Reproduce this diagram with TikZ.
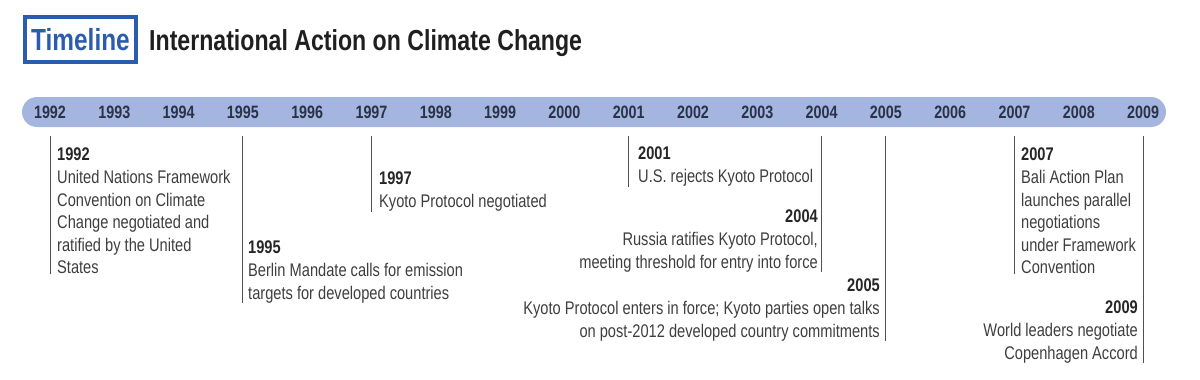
\documentclass[tikz,border=0pt]{standalone}
\usepackage{fontspec}
\setmainfont[FakeStretch=0.8]{Liberation Sans}
\usetikzlibrary{positioning}

\definecolor{barblue}{HTML}{A4B6E0}
\definecolor{boxblue}{HTML}{2C5CAE}
\definecolor{yeardark}{HTML}{2A3148}
\definecolor{textgray}{HTML}{3E3E3E}

\begin{document}
\begin{tikzpicture}[
    x=1pt, y=-1pt,
    % Define styles
    bartext/.style={font=\fontsize{17.9}{20}\selectfont\bfseries, text=yeardark, inner sep=0pt},
    event/.style={font=\fontsize{18.3}{22.6}\selectfont, text=textgray, inner sep=0pt},
    tick/.style={draw=textgray!90, line width=1pt}
]

% Define bar geometry
\def\first{50}
\def\gap{64.3}

\useasboundingbox (0,0) rectangle (1200,380);

% Title
\node[draw=boxblue, line width=4pt, text=boxblue, inner sep=0pt,
      font=\fontsize{30.5}{32}\selectfont\bfseries,
      minimum width=111pt, minimum height=45pt] (tag) at (80.5,39.5) {Timeline};
\node[anchor=base west, xshift=11pt, inner sep=0pt, text=black!88,
      font=\fontsize{28.9}{32}\selectfont\bfseries] (title) at (tag.base east) {International Action on Climate Change};

% Bar
\fill[barblue, rounded corners=15pt] (22,97) rectangle (1166,127);

% Year labels on the bar
\foreach \yr [count=\i from 0] in {1992,...,2009} {
    \node[bartext] (y\yr) at (\first+\i*\gap, 112) {\yr};
}

% Events (left aligned)
\node[event, anchor=north west, align=left] (e1992) at (57,148)
    {\textcolor{black!85}{\bfseries 1992}\\United Nations Framework\\Convention on Climate\\Change negotiated and\\ratified by the United\\States};
\node[event, anchor=north west, align=left] (e1995) at (248,241)
    {\textcolor{black!85}{\bfseries 1995}\\Berlin Mandate calls for emission\\targets for developed countries};
\node[event, anchor=north west, align=left] (e1997) at (379,172)
    {\textcolor{black!85}{\bfseries 1997}\\Kyoto Protocol negotiated};
\node[event, anchor=north west, align=left] (e2001) at (638,147)
    {\textcolor{black!85}{\bfseries 2001}\\U.S. rejects Kyoto Protocol};
\node[event, anchor=north west, align=left] (e2007) at (1021,148)
    {\textcolor{black!85}{\bfseries 2007}\\Bali Action Plan\\launches parallel\\negotiations\\under Framework\\Convention};

% Events (right aligned)
\node[event, anchor=north east, align=right] (e2004) at (818,210)
    {\textcolor{black!85}{\bfseries 2004}\\Russia ratifies Kyoto Protocol,\\meeting threshold for entry into force};
\node[event, anchor=north east, align=right] (e2005) at (880,279)
    {\textcolor{black!85}{\bfseries 2005}\\Kyoto Protocol enters in force; Kyoto parties open talks\\on post-2012 developed country commitments};
\node[event, anchor=north east, align=right] (e2009) at (1138,301)
    {\textcolor{black!85}{\bfseries 2009}\\World leaders negotiate\\Copenhagen Accord};

% Tick lines from the bar down along each event
\coordinate (top) at (0,136);
\foreach \yr in {1992,1995,1997,2001,2004,2005,2007,2009} {
    \draw[tick] (y\yr |- top) -- (y\yr |- e\yr.south);
}

\end{tikzpicture}
\end{document}
